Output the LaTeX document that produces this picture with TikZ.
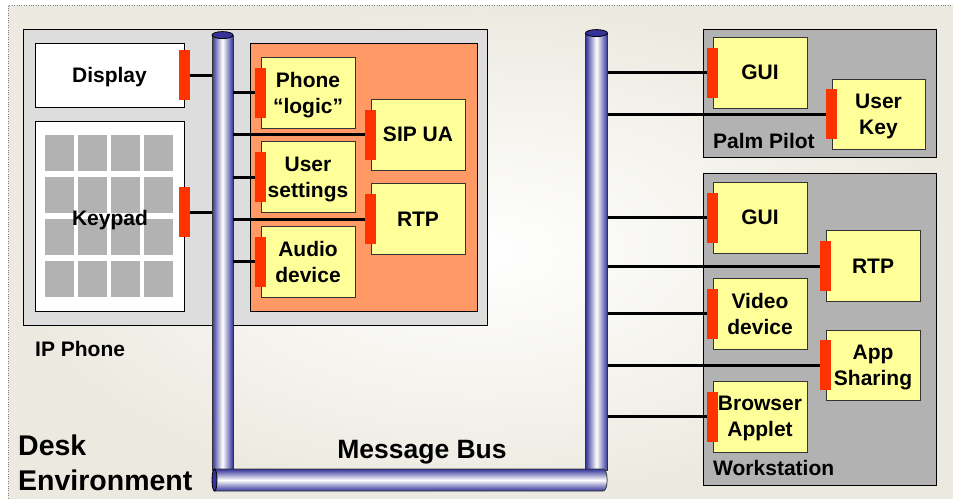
\documentclass[tikz,border=0pt]{standalone}
\usepackage{fontspec}
\setmainfont{Liberation Sans}
\definecolor{phonegrey}{HTML}{DDDDDD}
\definecolor{orangebox}{HTML}{FF9966}
\definecolor{yboxc}{HTML}{FFFF99}
\definecolor{devgrey}{HTML}{B2B2B2}
\definecolor{portred}{HTML}{FF3300}
\definecolor{busblue}{HTML}{333399}
\definecolor{bgbeige}{HTML}{ECEAE0}
\begin{document}
\begin{tikzpicture}[x=1pt,y=-1pt,
  lbl/.style={font=\fontsize{21}{26}\selectfont\bfseries, align=center, text depth=0pt},
  biglbl/.style={font=\fontsize{28.5}{35}\selectfont\bfseries, align=left, inner sep=0pt},
  yb/.style={draw=black!80, line width=1pt, fill=yboxc, minimum width=94pt, minimum height=71pt, inner sep=0pt, lbl},
  port/.style={fill=portred, minimum width=11pt, minimum height=50pt, inner sep=0pt},
  conn/.style={line width=3pt},
  keysq/.style={fill=devgrey, minimum width=29pt, minimum height=36pt, inner sep=0pt},
  container/.style={draw=black, line width=0.8pt, inner sep=0pt},
  busv/.style={draw=black!80, line width=0.8pt, inner sep=0pt, left color=busblue, right color=busblue, middle color=white},
  buscap/.style={draw=black, line width=0.8pt, fill=busblue}]
\useasboundingbox (0,0) rectangle (953,498);
% background
\shade[inner color=white, outer color=bgbeige] (8,5) rectangle (953,498);
\draw[dotted, gray] (8,498) -- (8,5) -- (953,5);

% IP phone
\node[container, fill=phonegrey, minimum width=464pt, minimum height=296pt] (ipphone) at (255,177) {};
\node[container, fill=white, minimum width=149pt, minimum height=64pt, lbl] (display) at (109.5,75) {Display};
\node[container, fill=white, minimum width=149pt, minimum height=190pt] (keypad) at (109.5,216) {};
\foreach \c [count=\i] in {59.5,92.5,125.5,158.5}{
  \foreach \r [count=\j] in {152.5,194.5,237,279}{
    \node[keysq] (k\i\j) at (\c,\r) {};
  }
}
\node[lbl, inner sep=0pt] (keypadlbl) at (110,218) {Keypad};
\node[port] (pdisp) at (184,75) {};
\node[port] (pkey) at (184,212) {};
\node[lbl, anchor=west, inner sep=0pt] (iplbl) at (35,349) {IP Phone};

\node[container, fill=orangebox, minimum width=227pt, minimum height=268pt] (orange) at (363.5,177) {};
\node[yb] (plogic) at (308,92.5) {Phone\\“logic”};
\node[yb] (sipua) at (418,134.5) {SIP UA};
\node[yb] (usets) at (308,177) {User\\settings};
\node[yb] (rtp) at (418,219) {RTP};
\node[yb] (audio) at (308,261.5) {Audio\\device};
\node[port] (pplogic) at (plogic.west) {};
\node[port] (psipua) at (sipua.west) {};
\node[port] (pusets) at (usets.west) {};
\node[port] (prtp) at (rtp.west) {};
\node[port] (paudio) at (audio.west) {};

% Palm pilot
\node[container, fill=devgrey, minimum width=233pt, minimum height=128pt] (palm) at (819.5,93) {};
\node[yb] (gui) at (760,72.5) {GUI};
\node[yb, minimum width=93pt, minimum height=70pt] (ukey) at (878.5,114) {User\\Key};
\node[port] (pgui) at (gui.west) {};
\node[port] (pukey) at (ukey.west) {};
\node[lbl, anchor=west, inner sep=0pt] (palmlbl) at (713,141) {Palm Pilot};

% Workstation
\node[container, fill=devgrey, minimum width=233pt, minimum height=312pt] (ws) at (819.5,329) {};
\node[yb] (gui2) at (760,217.5) {GUI};
\node[yb] (rtp2) at (873,266) {RTP};
\node[yb] (video) at (760,313.5) {Video\\device};
\node[yb, minimum height=70pt] (appsh) at (873,365) {App\\Sharing};
\node[yb] (browser) at (760,416.5) {Browser\\Applet};
\node[port] (pgui2) at (gui2.west) {};
\node[port] (prtp2) at (rtp2.west) {};
\node[port] (pvideo) at (video.west) {};
\node[port] (pappsh) at (appsh.west) {};
\node[port] (pbrowser) at (browser.west) {};
\node[lbl, anchor=west, inner sep=0pt] (wslbl) at (713,468) {Workstation};

% buses
\node[busv, minimum width=21pt, minimum height=434.5pt] (busL) at (222.5,252.75) {};
\draw[buscap] (busL.north) ellipse [x radius=10.5, y radius=3.5];
\node[busv, minimum width=22pt, minimum height=436.5pt] (busR) at (596.5,251.75) {};
\draw[buscap] (busR.north) ellipse [x radius=11, y radius=3.5];
\shade[top color=busblue, bottom color=busblue, middle color=white]
  (214.5,469) -- (603,469) .. controls (608.5,469) and (608.5,491) .. (603,491) -- (214.5,491) -- cycle;
\draw[draw=black!80, line width=0.8pt]
  (214.5,469) -- (603,469) .. controls (608.5,469) and (608.5,491) .. (603,491) -- (214.5,491);
\coordinate (hbusL) at (214.5,480);
\draw[buscap] (hbusL) ellipse [x radius=2.5, y radius=11];

% connectors
\draw[conn] (pdisp.east) -- (pdisp.east -| busL.west);
\draw[conn] (pkey.east) -- (pkey.east -| busL.west);
\foreach \p in {pplogic,psipua,pusets,prtp,paudio}{
  \draw[conn] (busL.east |- \p.west) -- (\p.west);
}
\foreach \p in {pgui,pukey,pgui2,prtp2,pvideo,pappsh,pbrowser}{
  \draw[conn] (busR.east |- \p.west) -- (\p.west);
}

% big labels
\node[biglbl, anchor=base west] (desk) at (18,455) {Desk};
\node[biglbl, anchor=base west] (env) at (18,490) {Environment};
\node[font=\fontsize{26.5}{32}\selectfont\bfseries, inner sep=0pt, anchor=base] (mbus) at (422,458) {Message Bus};
\end{tikzpicture}
\end{document}
